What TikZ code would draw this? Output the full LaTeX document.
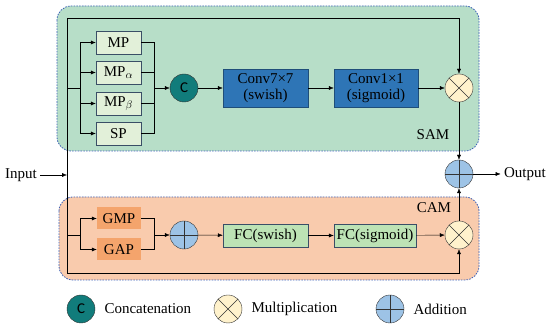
\documentclass[tikz,border=0pt]{standalone}
\usepackage{fontspec}
\setmainfont{Liberation Serif}
\setsansfont{Carlito}
\usetikzlibrary{arrows.meta}

\definecolor{samfill}{HTML}{B7DEC8}
\definecolor{camfill}{HTML}{F9CBAD}
\definecolor{frameblue}{HTML}{3F63B8}
\definecolor{poolfill}{HTML}{E2F0D9}
\definecolor{poolline}{HTML}{3A4E66}
\definecolor{convfill}{HTML}{2E75B6}
\definecolor{convline}{HTML}{1F4E79}
\definecolor{gfill}{HTML}{F4A46C}
\definecolor{fcfill}{HTML}{BDE3B5}
\definecolor{catfill}{HTML}{117C7B}
\definecolor{mulfill}{HTML}{FFF2CC}
\definecolor{addfill}{HTML}{9DC3E6}

\begin{document}
\begin{tikzpicture}[x=1pt,y=-1pt,font=\rmfamily\fontsize{15}{16.5}\selectfont,
  arr/.style={-{Latex[length=5pt,width=4pt]}},
  frame/.style={draw=frameblue,line width=0.8pt,dash pattern=on 1.6pt off 1.2pt,rounded corners=14pt},
  poolbox/.style={draw=poolline,fill=poolfill,minimum width=45pt,minimum height=23pt,inner sep=0pt},
  convbox/.style={draw=convline,fill=convfill,minimum height=38pt,inner sep=0pt,align=center},
  gbox/.style={fill=gfill,minimum width=44pt,minimum height=22pt,inner sep=0pt},
  fcbox/.style={draw=poolline,fill=fcfill,minimum height=23pt,inner sep=0pt},
  op/.style={circle,draw=black!80,minimum size=28pt,inner sep=0pt},
  catop/.style={op,fill=catfill,font=\sffamily\fontsize{15}{17}\selectfont},
  mulop/.style={op,fill=mulfill,path picture={
    \draw (path picture bounding box.north west) -- (path picture bounding box.south east)
          (path picture bounding box.south west) -- (path picture bounding box.north east);}},
  addop/.style={op,fill=addfill,path picture={
    \draw (path picture bounding box.north) -- (path picture bounding box.south)
          (path picture bounding box.west) -- (path picture bounding box.east);}}]
  \useasboundingbox (0,0) rectangle (550,328);

  % the two modules
  \filldraw[frame,fill=samfill] (57,6) rectangle (479,151);
  \filldraw[frame,fill=camfill] (59,197) rectangle (479,280);
  \node (samlab) at (433,135) {SAM};
  \node (camlab) at (434,208) {CAM};

  % input trunk
  \node (inp) at (21,175) {Input};
  \coordinate (top) at (67,18);
  \coordinate (bot) at (67,273);
  \coordinate (injoin) at (67,175);
  \draw[arr] (inp) -- (injoin);
  \draw (top) -- (bot);

  % spatial attention
  \coordinate (stap) at (67,88);
  \coordinate (sfork) at (80,88);
  \coordinate (smerge) at (154,88);
  \node[poolbox] (mp) at (118.5,42.5) {MP};
  \node[poolbox] (mpa) at (118.5,72.5) {MP$_\alpha$};
  \node[poolbox] (mpb) at (118.5,103.5) {MP$_\beta$};
  \node[poolbox] (sp) at (118.5,133.5) {SP};
  \draw (stap) -- (sfork);
  \foreach \b in {mp,mpa,mpb,sp} {
    \draw[arr] (sfork) |- (\b.west);
    \draw (\b.east) -| (smerge);
  }
  \node[catop] (cat) at (184,88) {C};
  \node[convbox,minimum width=85pt] (conv7) at (265.5,88) {Conv7×7\\(swish)};
  \node[convbox,minimum width=84pt] (conv1) at (376,88) {Conv1×1\\(sigmoid)};
  \node[mulop] (muls) at (459,88) {};
  \draw[arr] (smerge) -- (cat);
  \draw[arr] (cat) -- (conv7);
  \draw[arr] (conv7) -- (conv1);
  \draw[arr] (conv1) -- (muls);
  \draw[arr] (top) -| (muls);

  % channel attention
  \coordinate (ctap) at (67,235);
  \coordinate (cfork) at (80,235);
  \coordinate (cmerge) at (154,235);
  \node[gbox] (gmp) at (119,218.5) {GMP};
  \node[gbox] (gap) at (119,249.5) {GAP};
  \draw (ctap) -- (cfork);
  \foreach \b in {gmp,gap} {
    \draw[arr] (cfork) |- (\b.west);
    \draw (\b.east) -| (cmerge);
  }
  \node[addop] (adc) at (184,235) {};
  \node[fcbox,minimum width=85pt] (fc1) at (265.5,235.5) {FC(swish)};
  \node[fcbox,minimum width=82pt] (fc2) at (375,235.5) {FC(sigmoid)};
  \node[mulop] (mulc) at (459,235) {};
  \draw[arr] (cmerge) -- (adc);
  \draw[arr] (adc) -- (fc1);
  \draw[arr] (fc1) -- (fc2);
  \draw[arr] (fc2) -- (mulc);
  \draw[arr] (bot) -| (mulc);

  % output
  \node[addop] (addo) at (459,174) {};
  \node (outp) at (525,174) {Output};
  \draw[arr] (muls) -- (addo);
  \draw[arr] (mulc) -- (addo);
  \draw[arr] (addo) -- (outp);

  % legend
  \node[catop] (lgcat) at (81,309) {C};
  \node[anchor=west] (lgcattxt) at (101,309) {Concatenation};
  \node[mulop] (lgmul) at (228,309) {};
  \node[anchor=west] (lgmultxt) at (248,309) {Multiplication};
  \node[addop] (lgadd) at (390,309) {};
  \node[anchor=west] (lgaddtxt) at (410,309) {Addition};
\end{tikzpicture}
\end{document}
